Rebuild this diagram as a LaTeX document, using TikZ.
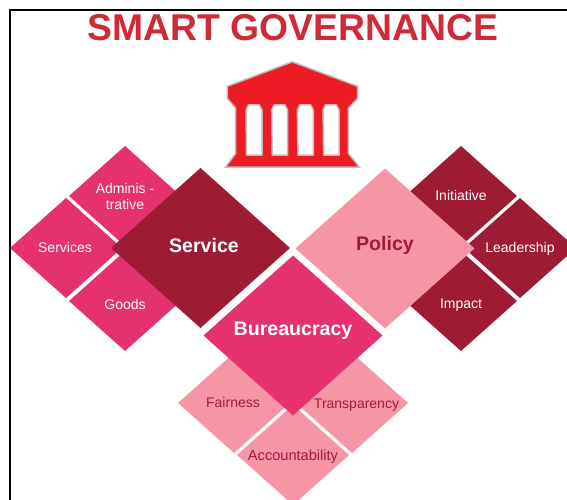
\documentclass[tikz,border=0pt]{standalone}
\usepackage{fontspec}
\setmainfont{Liberation Sans}
\usetikzlibrary{shapes.geometric}
\definecolor{darkrose}{HTML}{9E1B34}
\definecolor{hotrose}{HTML}{E5316E}
\definecolor{palerose}{HTML}{F595A6}
\definecolor{titlered}{HTML}{CF2A36}
\definecolor{templered}{HTML}{ED1C24}
\begin{document}
\begin{tikzpicture}[
        x=1pt, y=-1pt,
        tile/.style={diamond, draw=none, inner sep=0pt, outer sep=0pt, minimum width=112pt, minimum height=100pt},
        bigtile/.style={tile, minimum width=179pt, minimum height=160pt},
        small/.style={inner sep=0pt, text=white, font=\fontsize{14}{16}\selectfont, align=center},
        smalldark/.style={small, text=darkrose},
        big/.style={inner sep=0pt, text=white, font=\fontsize{19.6}{22}\selectfont\bfseries},
        pillar/.style={draw=black!25, fill=white, line width=1.5pt, line join=round},
        temple/.style={draw=black!25, fill=templered, line width=1.5pt, line join=miter}
    ]
        \clip (0, 0) rectangle (567, 500);
        \draw[line width=2pt] (10, 500) -- (10, 10) -- (567, 10);
        \node[text=titlered, inner sep=0pt, font=\fontsize{37.3}{40}\selectfont\bfseries] (title) at (293, 28) {SMART GOVERNANCE};

        % temple
        \draw[temple] (292.3, 61.8) -- (357.7, 86.3) -- (357.7, 98.3) -- (348.3, 108.3) -- (348.3, 153.3)
            -- (359.5, 167.2) -- (225.5, 167.2) -- (235.7, 153.3) -- (235.7, 108.3) -- (227.3, 98.3) -- (227.3, 86.3) -- cycle;
        \draw[pillar, shift={(254, 0)}] (-5.7, 105) -- (5.3, 105) -- (8, 110) -- (8, 155) -- (-7.5, 155) -- (-8, 110) -- cycle;
        \draw[pillar, shift={(279.7, 0)}] (-5.7, 105) -- (5.3, 105) -- (8, 110) -- (8, 155) -- (-7.5, 155) -- (-8, 110) -- cycle;
        \draw[pillar, shift={(305.4, 0)}] (-5.7, 105) -- (5.3, 105) -- (8, 110) -- (8, 155) -- (-7.5, 155) -- (-8, 110) -- cycle;
        \draw[pillar, shift={(331.1, 0)}] (-5.7, 105) -- (5.3, 105) -- (8, 110) -- (8, 155) -- (-7.5, 155) -- (-8, 110) -- cycle;

        % left group
        \node[tile, fill=hotrose] (admin) at (125, 196) {};
        \node[tile, fill=hotrose] (services) at (66, 248) {};
        \node[tile, fill=hotrose] (goods) at (125, 301) {};
        \node[bigtile, fill=darkrose] (service) at (200.5, 248) {};
        \node[small] (admintext) at (125, 196) {Adminis -\\trative};
        \node[small] (servicestext) at (65, 247) {Services};
        \node[small] (goodstext) at (125, 304) {Goods};
        \node[big] (servicetext) at (204, 245) {Service};

        % right group
        \node[tile, fill=darkrose] (initiative) at (461, 196) {};
        \node[tile, fill=darkrose] (leadership) at (520, 248) {};
        \node[tile, fill=darkrose] (impact) at (461, 301) {};
        \node[bigtile, fill=palerose] (policy) at (385, 248.5) {};
        \node[small] (initiativetext) at (461, 195) {Initiative};
        \node[small] (leadershiptext) at (520, 249) {Leadership};
        \node[small] (impacttext) at (461, 305) {Impact};
        \node[big, text=darkrose] (policytext) at (385, 245) {Policy};

        % bottom group
        \node[tile, fill=palerose] (fairness) at (234, 403) {};
        \node[tile, fill=palerose] (transparency) at (352, 403) {};
        \node[tile, fill=palerose] (accountability) at (293, 455) {};
        \node[bigtile, fill=hotrose] (bureaucracy) at (293, 335.5) {};
        \node[smalldark] (fairnesstext) at (233, 402) {Fairness};
        \node[smalldark] (transparencytext) at (356.5, 405) {Transparency};
        \node[smalldark, font=\fontsize{14.6}{17}\selectfont] (accountabilitytext) at (293, 457) {Accountability};
        \node[big] (bureaucracytext) at (293, 331) {Bureaucracy};
    \end{tikzpicture}
\end{document}
